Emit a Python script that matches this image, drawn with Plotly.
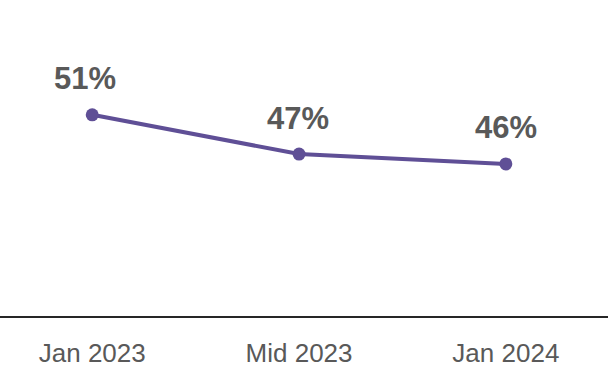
import plotly.graph_objects as go

# Survey periods and share values (%)
periods = ["Jan 2023", "Mid 2023", "Jan 2024"]
shares = [51, 47, 46]
label_texts = ["51%", "47%", "46%"]
label_xshift = [-7, -1, 0]

LINE_COLOR = "#5f4f96"
TEXT_COLOR = "#595959"

fig = go.Figure()
fig.add_trace(go.Scatter(
    x=periods,
    y=shares,
    mode="lines+markers",
    line=dict(color=LINE_COLOR, width=4),
    marker=dict(color=LINE_COLOR, size=13),
    hoverinfo="skip",
))

for p, v, t, dx in zip(periods, shares, label_texts, label_xshift):
    fig.add_annotation(
        x=p, y=v, text=f"<b>{t}</b>", showarrow=False,
        xshift=dx, yshift=36,
        font=dict(family="Liberation Sans, Arial", size=31, color=TEXT_COLOR),
    )

fig.update_layout(
    width=608, height=368,
    margin=dict(l=0, r=0, t=0, b=43),
    paper_bgcolor="white", plot_bgcolor="white",
    showlegend=False,
    font=dict(family="Liberation Sans, Arial", color=TEXT_COLOR),
)
fig.update_xaxes(
    type="category",
    range=[-0.446, 2.494],
    showgrid=False, zeroline=False,
    showline=True, linecolor="#262626", linewidth=2,
    ticks="", ticklabelstandoff=13,
    tickfont=dict(size=26, color=TEXT_COLOR),
)
fig.update_yaxes(
    range=[30.5, 62.7],
    visible=False, showgrid=False, zeroline=False,
)

fig.write_html("out.html")
